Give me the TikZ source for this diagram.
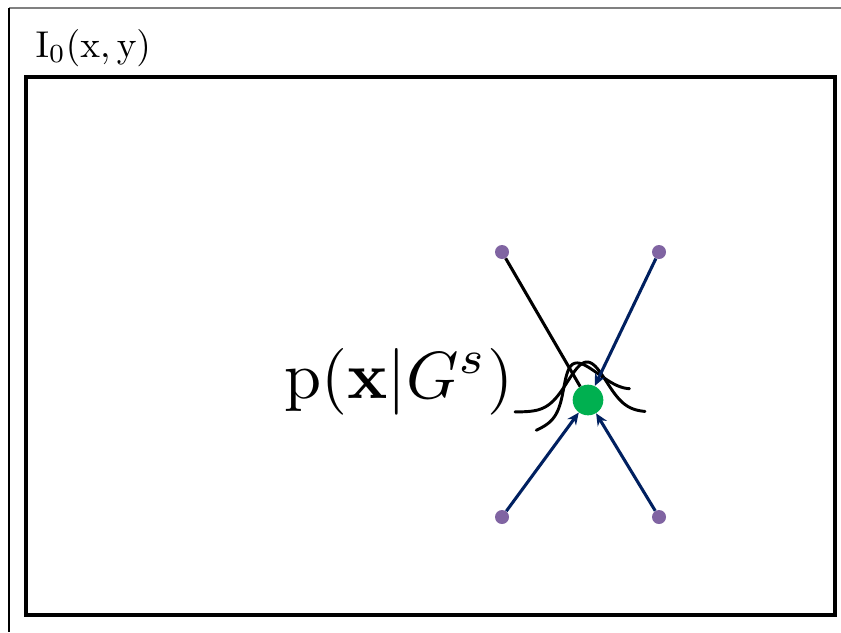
\documentclass[tikz,border=0pt]{standalone}
\usepackage{amsmath}
\usepackage{xcolor}
\usetikzlibrary{arrows.meta}

\definecolor{dotgreen}{HTML}{00B050}
\definecolor{dotpurple}{HTML}{8064A2}
\definecolor{arrownavy}{HTML}{002060}

\begin{document}
\begin{tikzpicture}[x=0.75pt, y=-0.75pt, >=Stealth,
  purpledot/.style={circle, fill=dotpurple, inner sep=0pt, minimum size=10.5pt},
  greendot/.style={circle, fill=dotgreen, inner sep=0pt, minimum size=23pt},
  navyarrow/.style={-{Stealth[length=9pt,width=8pt]}, arrownavy, line width=2.3pt},
  bell/.style={line width=2.2pt, line cap=round, samples=80, smooth}]

\useasboundingbox (0,0) rectangle (841,632);

% Frame of the image I_0
\draw[gray, line width=1pt] (9,8) -- (841,8);
\draw[line width=1pt] (9,8) -- (9,632);
\draw[line width=3pt] (26,77) rectangle (835,615);
\node[scale=2.8, anchor=base west, inner sep=0pt] (imglabel) at (35,57) {$\mathrm{I}_0(\mathrm{x},\mathrm{y})$};

% Likelihood curves around the point
\draw[bell, domain=515:645] plot (\x, {412-50*exp(-(\x-587)*(\x-587)/760)});
\begin{scope}[shift={(592,408)}, rotate=22]
  \draw[bell, domain=-60:42] plot (\x, {-48*exp(-\x*\x/700)});
\end{scope}
\node[scale=5, anchor=base west, inner sep=0pt] (likelihood) at (283,398) {$\mathrm{p}(\mathbf{x}|G^{s})$};

% Neighbouring points and the centre point
\node[purpledot] (topleft) at (502,252) {};
\node[purpledot] (topright) at (659,252) {};
\node[purpledot] (botleft) at (502,517) {};
\node[purpledot] (botright) at (659,517) {};
\node[greendot] (centre) at (588,400) {};

% Votes towards the centre
\draw[line width=2.3pt] (topleft) -- (centre);
\draw[navyarrow] (topright) -- (centre);
\draw[navyarrow] (botleft) -- (centre);
\draw[navyarrow] (botright) -- (centre);

\end{tikzpicture}
\end{document}
